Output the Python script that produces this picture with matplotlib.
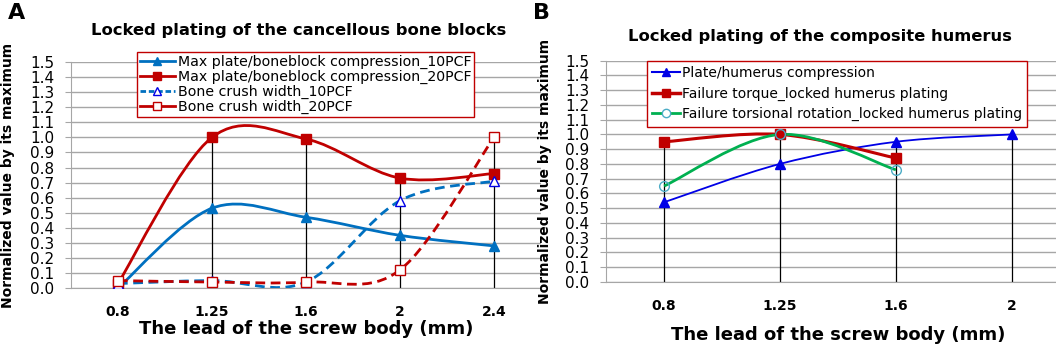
import matplotlib.pyplot as plt
import numpy as np
from matplotlib.path import Path
from matplotlib.patches import PathPatch
from matplotlib.lines import Line2D

# panel A: cancellous bone blocks
leads_a = ['0.8', '1.25', '1.6', '2', '2.4']
max_comp_10 = [0.00, 0.53, 0.47, 0.35, 0.28]
max_comp_20 = [0.03, 1.00, 0.99, 0.73, 0.76]
crush_10 = [0.03, 0.05, 0.04, 0.58, 0.71]
crush_20 = [0.05, 0.04, 0.04, 0.12, 1.00]

# panel B: composite humerus
leads_b = ['0.8', '1.25', '1.6', '2']
plate_comp = [0.54, 0.80, 0.95, 1.00]
fail_torque = [0.95, 1.00, 0.84]
fail_rot = [0.65, 1.00, 0.76]

RED = '#C00000'
BLUE = '#0070C0'
BLUE2 = '#0000E6'
GREEN = '#00B050'
GRID = '#A6A6A6'


def smooth(ax, ys, color, lw=2.0, ls='-'):
    # excel style smoothed line (bezier through the points)
    pts = np.column_stack([np.arange(len(ys)), ys]).astype(float)
    n = len(pts)
    verts = [pts[0]]
    codes = [Path.MOVETO]
    for i in range(n - 1):
        p0 = pts[i - 1] if i > 0 else pts[i]
        p1, p2 = pts[i], pts[i + 1]
        p3 = pts[i + 2] if i + 2 < n else pts[i + 1]
        verts += [p1 + (p2 - p0) / 6, p2 - (p3 - p1) / 6, p2]
        codes += [Path.CURVE4] * 3
    ax.add_patch(PathPatch(Path(verts, codes), fill=False, edgecolor=color,
                           lw=lw, ls=ls, zorder=3, capstyle='butt'))


def setup(ax, cats, ylab_x):
    ax.set_ylim(0, 1.5)
    ax.set_yticks(np.arange(0, 1.51, 0.1))
    ax.set_yticklabels([f'{v:.1f}' for v in np.arange(0, 1.51, 0.1)], fontsize=11)
    ax.set_xticks(range(len(cats)))
    ax.set_xticklabels(cats, fontsize=10, fontweight='bold')
    ax.tick_params(axis='x', length=0, pad=12)
    ax.tick_params(axis='y', length=4, color=GRID, pad=8)
    ax.grid(axis='y', color=GRID, lw=1)
    ax.set_axisbelow(True)
    for s in ['top', 'right']:
        ax.spines[s].set_visible(False)
    ax.spines['left'].set_color(GRID)
    ax.spines['bottom'].set_color(GRID)
    ax.set_ylabel('Normalized value by its maximum', fontsize=10, fontweight='bold')
    ax.yaxis.set_label_coords(ylab_x, 0.5)
    ax.set_xlabel('The lead of the screw body (mm)', fontsize=13, fontweight='bold')


fig = plt.figure(figsize=(10.56, 3.45), dpi=100)

# ---- A ----
ax1 = fig.add_axes([0.0672, 0.165, 0.445, 0.655])
setup(ax1, leads_a, -0.119)
ax1.set_xlim(-0.5, 4.5)
x = np.arange(len(leads_a))
tops = np.max([max_comp_10, max_comp_20, crush_10, crush_20], axis=0)
ax1.vlines(x[1:], 0, tops[1:], color='black', lw=0.9, zorder=2)
smooth(ax1, max_comp_10, BLUE)
smooth(ax1, max_comp_20, RED)
smooth(ax1, crush_10, BLUE, ls=(0, (3.5, 2)))
smooth(ax1, crush_20, RED, ls=(0, (3.5, 2)))
ax1.plot(x, max_comp_10, ls='none', marker='^', ms=7, color=BLUE, zorder=4)
ax1.plot(x, max_comp_20, ls='none', marker='s', ms=7, color=RED, zorder=4)
ax1.plot(x, crush_10, ls='none', marker='^', ms=7, mfc='white', mec=BLUE2, mew=1, zorder=4)
ax1.plot(x, crush_20, ls='none', marker='s', ms=7, mfc='white', mec=RED, mew=1, zorder=4)
ax1.xaxis.labelpad = 1

h1 = [Line2D([], [], color=BLUE, lw=2, marker='^', ms=6),
      Line2D([], [], color=RED, lw=2, marker='s', ms=6),
      Line2D([], [], color=BLUE, lw=2, ls=(0, (2, 1)), marker='^', ms=6, mfc='white', mec=BLUE2),
      Line2D([], [], color=RED, lw=2, marker='s', ms=6, mfc='white', mec=RED)]
lab1 = ['Max plate/boneblock compression_10PCF', 'Max plate/boneblock compression_20PCF',
        'Bone crush width_10PCF', 'Bone crush width_20PCF']
leg = ax1.legend(h1, lab1, loc='upper left', bbox_to_anchor=(0.14, 1.044), fontsize=10.2,
                 frameon=True, fancybox=False, edgecolor=RED, framealpha=1,
                 handlelength=2.5, handletextpad=0.2, labelspacing=0.05,
                 borderpad=0.2, borderaxespad=0)
leg.get_frame().set_linewidth(1)

# ---- B ----
ax2 = fig.add_axes([0.574, 0.183, 0.439, 0.641])
setup(ax2, leads_b, -0.116)
ax2.set_xlim(-0.5, 3.5)
xb = np.arange(len(leads_b))
tops_b = [max(plate_comp[0], fail_torque[0], fail_rot[0]),
          max(plate_comp[1], fail_torque[1], fail_rot[1]),
          max(plate_comp[2], fail_torque[2], fail_rot[2]),
          plate_comp[3]]
ax2.vlines(xb, 0, tops_b, color='black', lw=0.9, zorder=2)
smooth(ax2, plate_comp, BLUE2, lw=1.3)
smooth(ax2, fail_torque, RED, lw=2.2)
smooth(ax2, fail_rot, GREEN, lw=2.0)
ax2.plot(xb, plate_comp, ls='none', marker='^', ms=7, color=BLUE2, zorder=4)
ax2.plot(xb[:3], fail_torque, ls='none', marker='s', ms=7, color=RED, zorder=4)
ax2.plot(xb[:3], fail_rot, ls='none', marker='o', ms=7, mfc='none', mec='#4BACC6', mew=1, zorder=4)
ax2.xaxis.labelpad = 10

h2 = [Line2D([], [], color=BLUE2, lw=1.5, marker='^', ms=6),
      Line2D([], [], color=RED, lw=2.5, marker='s', ms=6),
      Line2D([], [], color=GREEN, lw=2, marker='o', ms=6, mfc='white', mec='#4BACC6')]
lab2 = ['Plate/humerus compression', 'Failure torque_locked humerus plating',
        'Failure torsional rotation_locked humerus plating']
leg2 = ax2.legend(h2, lab2, loc='upper left', bbox_to_anchor=(0.088, 1.0), fontsize=10,
                  frameon=True, fancybox=False, edgecolor=RED, framealpha=1,
                  handlelength=2.0, handletextpad=0.1, labelspacing=0.45,
                  borderpad=0.4, borderaxespad=0)
leg2.get_frame().set_linewidth(1)

fig.text(299 / 1056, 1 - 31 / 345, 'Locked plating of the cancellous bone blocks',
         ha='center', va='center', fontsize=11.8, fontweight='bold')
fig.text(820 / 1056, 1 - 37 / 345, 'Locked plating of the composite humerus',
         ha='center', va='center', fontsize=11.8, fontweight='bold')
fig.text(0.007, 1 - 13 / 345, 'A', ha='left', va='center', fontsize=16, fontweight='bold')
fig.text(0.505, 1 - 13 / 345, 'B', ha='left', va='center', fontsize=16, fontweight='bold')

fig.savefig('out.png', dpi=100)
